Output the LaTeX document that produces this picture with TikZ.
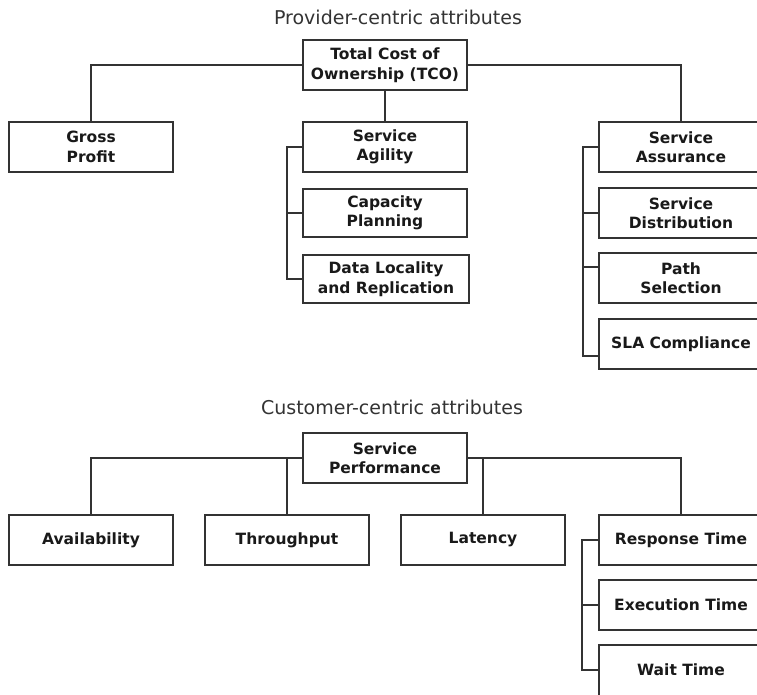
\documentclass[tikz,border=0pt]{standalone}
\usepackage{fontspec}
\setmainfont{DejaVu Sans}
\begin{document}
\begin{tikzpicture}[x=1pt,y=1pt,
  box/.style={draw=black!80, line width=1.7pt, fill=white, align=center, inner sep=0pt,
    minimum width=164pt, minimum height=50pt,
    font=\bfseries\fontsize{15.5}{19.5}\selectfont, text=black!90},
  title/.style={anchor=base, font=\fontsize{19}{23}\selectfont, text=black!80},
  wire/.style={draw=black!80, line width=1.7pt}]
\useasboundingbox (0,0) rectangle (757,-694);
\fill[white] (0,0) rectangle (757,-694);
% ---------- Provider-centric ----------
\node[title] (t1) at (398,-24) {Provider-centric attributes};
\node[box] (tco) at (385,-65) {Total Cost of\\Ownership (TCO)};
\node[box] (gp) at (91,-147) {Gross\\Profit};
\node[box] (sag) at (385,-147) {Service\\Agility};
\node[box, minimum height=48pt] (cap) at (385,-213) {Capacity\\Planning};
\node[box, minimum height=48pt, minimum width=166pt] (dlr) at (386,-279) {Data Locality\\and Replication};
\node[box] (sas) at (681,-147) {Service\\Assurance};
\node[box] (sdis) at (681,-213) {Service\\Distribution};
\node[box] (path) at (681,-278) {Path\\Selection};
\node[box] (sla) at (681,-344) {SLA Compliance};
\draw[wire] (tco.west) -| (gp.north);
\draw[wire] (tco.east) -| (sas.north);
\draw[wire] (tco.south) -- (sag.north);
\draw[wire] (sag.west) -- ++(-15,0) coordinate (mb) |- (dlr.west);
\draw[wire] (cap.west) -- (mb |- cap.west);
\draw[wire] (sas.west) -- ++(-15,0) coordinate (rb) |- ([yshift=-12pt]sla.west);
\draw[wire] (sdis.west) -- (rb |- sdis.west);
\draw[wire] ([yshift=11pt]path.west) -- ++(-15,0);
% ---------- Customer-centric ----------
\node[title] (t2) at (392,-414) {Customer-centric attributes};
\node[box] (sp) at (385,-458) {Service\\Performance};
\node[box] (av) at (91,-540) {Availability};
\node[box] (tp) at (287,-540) {Throughput};
\node[box] (lat) at (483,-540) {Latency};
\node[box] (rt) at (681,-540) {Response Time};
\node[box] (et) at (681,-605) {Execution Time};
\node[box, minimum height=62pt] (wt) at (681,-676) {};
\node[font=\bfseries\fontsize{15.5}{19.5}\selectfont, text=black!90] (wtl) at (681,-670) {Wait Time};
\draw[wire] (sp.west) -| (av.north);
\draw[wire] (sp.east) -| (rt.north);
\draw[wire] (tp.north) -- (tp.north |- sp.west);
\draw[wire] (lat.north) -- (lat.north |- sp.east);
\draw[wire] (rt.west) -- ++(-16,0) coordinate (cb) |- ([yshift=6pt]wt.west);
\draw[wire] (et.west) -- (cb |- et.west);
\end{tikzpicture}
\end{document}
